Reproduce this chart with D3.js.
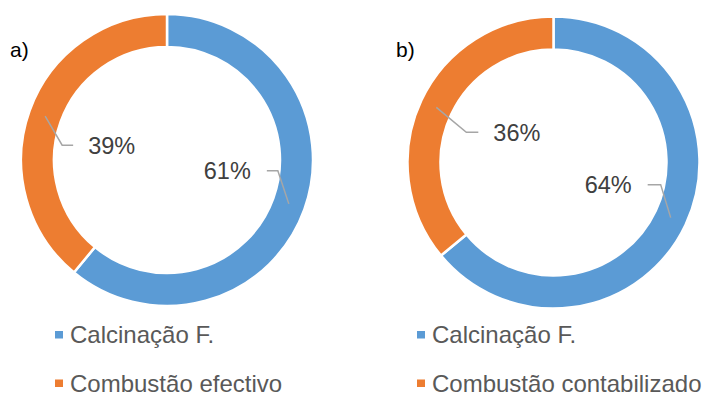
<!DOCTYPE html>
<html>
<head>
<meta charset="utf-8">
<script src="https://cdn.jsdelivr.net/npm/d3@7"></script>
<style>
  html, body { margin: 0; padding: 0; background: #ffffff; }
  svg { display: block; }
  text { font-family: "Liberation Sans", Arial, sans-serif; }
</style>
</head>
<body>
<svg id="chart" width="702" height="396"></svg>
<script>
// Shares of CO2 emissions by source
const categories = ["Calcinação F.", "Combustão"];
const panelTags = ["a)", "b)"];
const legendSecond = ["Combustão efectivo", "Combustão contabilizado"];
const valuesA = [61, 39];
const valuesB = [64, 36];
const colors = ["#5b9bd5", "#ed7d31"];

// layout of each doughnut panel
const panels = [
  { values: valuesA, cx: 167, cy: 160, tagX: 10, tagY: 57, legX: 55,
    // leader elbow / end offsets per slice (relative to the ring midpoint)
    leaders: [{ ex: -11, ey: -33, hx: -11 }, { ex: 17, ey: 29, hx: 11 }] },
  { values: valuesB, cx: 553.5, cy: 162.5, tagX: 396, tagY: 57, legX: 417,
    leaders: [{ ex: -10, ey: -33, hx: -13 }, { ex: 30, ey: 25, hx: 12 }] }
];

const outerR = 146, innerR = 113;
const svg = d3.select("#chart");

const pie = d3.pie().sort(null).value(d => d);
const arc = d3.arc().innerRadius(innerR).outerRadius(outerR);
const midArc = d3.arc().innerRadius((innerR + outerR) / 2).outerRadius((innerR + outerR) / 2);

panels.forEach((p, pi) => {
  const g = svg.append("g").attr("transform", `translate(${p.cx},${p.cy})`);
  const arcs = pie(p.values);

  g.selectAll("path.slice")
    .data(arcs)
    .join("path")
    .attr("class", "slice")
    .attr("d", arc)
    .attr("fill", (d, i) => colors[i])
    .attr("stroke", "#ffffff")
    .attr("stroke-width", 2.5);

  // leader lines and percentage labels
  arcs.forEach((d, i) => {
    const [sx, sy] = midArc.centroid(d);
    const L = p.leaders[i];
    const ex = sx + L.ex, ey = sy + L.ey;
    const hx = ex + L.hx;
    g.append("polyline")
      .attr("points", `${sx},${sy} ${ex},${ey} ${hx},${ey}`)
      .attr("fill", "none")
      .attr("stroke", "#a6a6a6")
      .attr("stroke-width", 1.5);
    const right = L.hx > 0;
    g.append("text")
      .attr("x", hx + (right ? 15 : -16))
      .attr("y", ey + 8.5)
      .attr("text-anchor", right ? "start" : "end")
      .attr("font-size", 23.5)
      .attr("fill", "#404040")
      .text(d.data + "%");
  });

  svg.append("text")
    .attr("x", p.tagX)
    .attr("y", p.tagY)
    .attr("font-size", 21)
    .attr("fill", "#000000")
    .text(panelTags[pi]);

  // legend
  const names = [categories[0], legendSecond[pi]];
  const rowY = [343, 391.5];
  names.forEach((n, i) => {
    svg.append("rect")
      .attr("x", p.legX)
      .attr("y", rowY[i] - 12)
      .attr("width", 8)
      .attr("height", 7.5)
      .attr("fill", colors[i]);
    svg.append("text")
      .attr("x", p.legX + 15)
      .attr("y", rowY[i])
      .attr("font-size", 24)
      .attr("fill", "#595959")
      .text(n);
  });
});
</script>
</body>
</html>
